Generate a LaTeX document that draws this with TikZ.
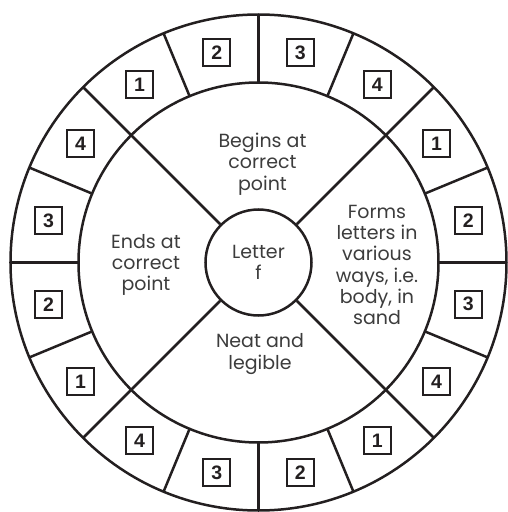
\documentclass[tikz,border=0pt]{standalone}
\usepackage{fontspec}
\setmainfont{Poppins}
\newfontfamily\digitfont{Liberation Sans}
\usetikzlibrary{positioning,calc}
\definecolor{ink}{HTML}{231F20}
\definecolor{txt}{HTML}{3C3C3C}
\tikzset{
    wheel/.style={draw=ink, line width=2.5pt},
    spoke/.style={draw=ink, line width=2.5pt},
    hubnode/.style={circle, draw=ink, line width=2.5pt, minimum size=106pt, inner sep=0pt},
    numbox/.style={rectangle, draw=ink, line width=2pt, minimum size=27pt, inner sep=0pt, font=\digitfont\bfseries\fontsize{19.5}{19.5}\selectfont, text=ink},
    skill/.style={align=center, font=\fontsize{19}{21.3}\selectfont, text=txt},
}

\begin{document}
\begin{tikzpicture}[x=1pt, y=1pt]
    \useasboundingbox (-258.5,-249.5) rectangle (249.5,262.5);
    \coordinate (c) at (0,0);
    \draw[wheel] (c) circle (248);
    \draw[wheel] (c) circle (180);
    \node[hubnode, skill] (hub) at (c) {Letter\\f};

    % ring dividers
    \foreach \a [count=\i] in {0,22.5,...,337.5} {
        \coordinate (in\i) at (\a:180);
        \coordinate (out\i) at (\a:248);
        \draw[spoke] (in\i) -- (out\i);
    }
    % spokes from the hub
    \foreach \a [count=\i] in {45,135,225,315} {
        \coordinate (rim\i) at (\a:180);
        \draw[spoke] (hub.\a) -- (rim\i);
    }

    % numbered boxes
    \foreach \n [count=\k from 0] in {2,1,4,3,2,1,4,3,2,1,4,3,2,1,4,3}
        \node[numbox] (n\k) at ({11.25+22.5*\k}:214) {\n};

    \node[skill] (begins) at (4,98.5) {Begins at\\correct\\point};
    \node[skill] (forms) at (118.5,-2.5) {Forms\\letters in\\various\\ways, i.e.\\body, in\\sand};
    \node[skill] (ends) at (-112.5,-2.5) {Ends at\\correct\\point};
    \node[skill] (neat) at (1.5,-91.5) {Neat and\\legible};
\end{tikzpicture}
\end{document}
